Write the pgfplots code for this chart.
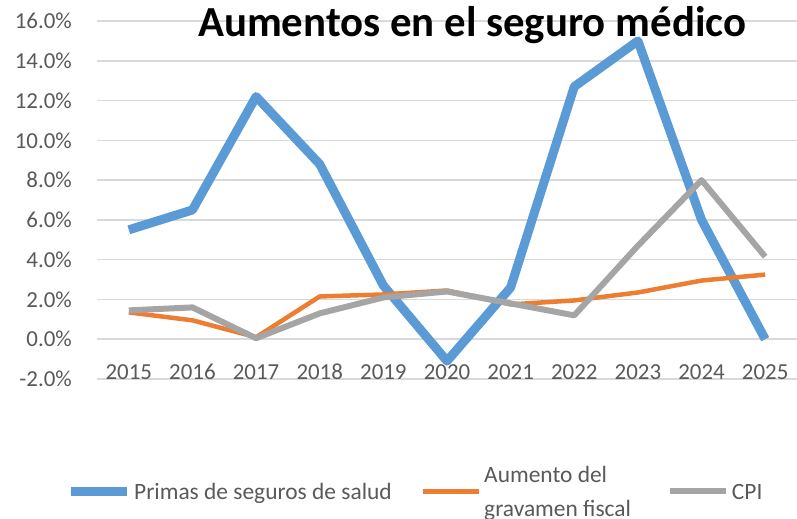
\documentclass[border=0pt]{standalone}
\usepackage{pgfplots}
\pgfplotsset{compat=1.18}
\usepackage{fontspec}
\setmainfont{Carlito}
\definecolor{cblue}{HTML}{5B9BD5}
\definecolor{corange}{HTML}{ED7D31}
\definecolor{cgray}{HTML}{A5A5A5}
\definecolor{ctext}{HTML}{595959}
\definecolor{cgrid}{HTML}{D9D9D9}
\newcommand{\legbox}[2][6bp]{\raisebox{#1}[29bp][29bp]{#2}}
\begin{document}
\begin{tikzpicture}
\useasboundingbox (0,0) rectangle (797bp,519bp);
\begin{axis}[
  at={(97bp,140bp)}, anchor=south west,
  scale only axis, width=700bp, height=358bp,
  xmin=-0.5, xmax=10.5, ymin=-2, ymax=16,
  xtick={0,...,10},
  xticklabels={2015,2016,2017,2018,2019,2020,2021,2022,2023,2024,2025},
  ytick={-2,0,2,4,6,8,10,12,14,16},
  yticklabels={-2.0\%,0.0\%,2.0\%,4.0\%,6.0\%,8.0\%,10.0\%,12.0\%,14.0\%,16.0\%},
  ymajorgrids,
  major grid style={draw=cgrid, line width=1.5bp},
  axis line style={draw=none},
  major tick length=0pt,
  tick label style={font=\fontsize{23}{27}\selectfont, text=ctext},
  yticklabel style={anchor=east, inner sep=0pt, xshift=-25bp},
  xticklabel style={anchor=base, inner sep=0pt, yshift=0bp},
  title={Aumentos en el seguro médico},
  title style={at={(axis description cs:0.536,0.941)}, anchor=base,
    font=\fontsize{43}{50}\selectfont\bfseries, text=black},
  legend columns=3,
  legend style={at={(axis description cs:-0.0443,-0.3142)}, anchor=west,
    draw=none, fill=none, inner sep=0pt, nodes={inner sep=0pt},
    font=\fontsize{23.5}{28}\selectfont, text=ctext,
    /tikz/column 1/.style={column sep=3bp},
    /tikz/column 2/.style={column sep=29bp},
    /tikz/column 3/.style={column sep=3bp},
    /tikz/column 4/.style={column sep=36bp},
    /tikz/column 5/.style={column sep=3bp}},
  legend cell align=left,
  legend image code/.code={%
    \path (0bp,0bp) -- (56bp,0bp);
    \draw[#1, line cap=round, overlay] ({0.5*\pgflinewidth},0bp) -- ({56bp-0.5*\pgflinewidth},0bp);},
  line join=round,
]
\addplot[cblue, line width=9bp] coordinates {
 (0,5.5) (1,6.5) (2,12.2) (3,8.8) (4,2.7) (5,-1.1) (6,2.6) (7,12.7) (8,15.0) (9,6.0) (10,0.0)};
\addlegendentry{\legbox{Primas de seguros de salud}}
\addplot[corange, line width=4.5bp] coordinates {
 (0,1.35) (1,0.95) (2,0.1) (3,2.15) (4,2.25) (5,2.45) (6,1.75) (7,1.95) (8,2.35) (9,2.95) (10,3.25)};
\addlegendentry{\legbox[23bp]{\fontsize{23.5}{34}\selectfont\begin{tabular}[t]{@{}l@{}}Aumento del\\gravamen fiscal\end{tabular}}}
\addplot[cgray, line width=6bp] coordinates {
 (0,1.45) (1,1.6) (2,0.05) (3,1.3) (4,2.1) (5,2.4) (6,1.8) (7,1.2) (8,4.7) (9,8.0) (10,4.15)};
\addlegendentry{\legbox{CPI}}
\end{axis}
\end{tikzpicture}
\end{document}
